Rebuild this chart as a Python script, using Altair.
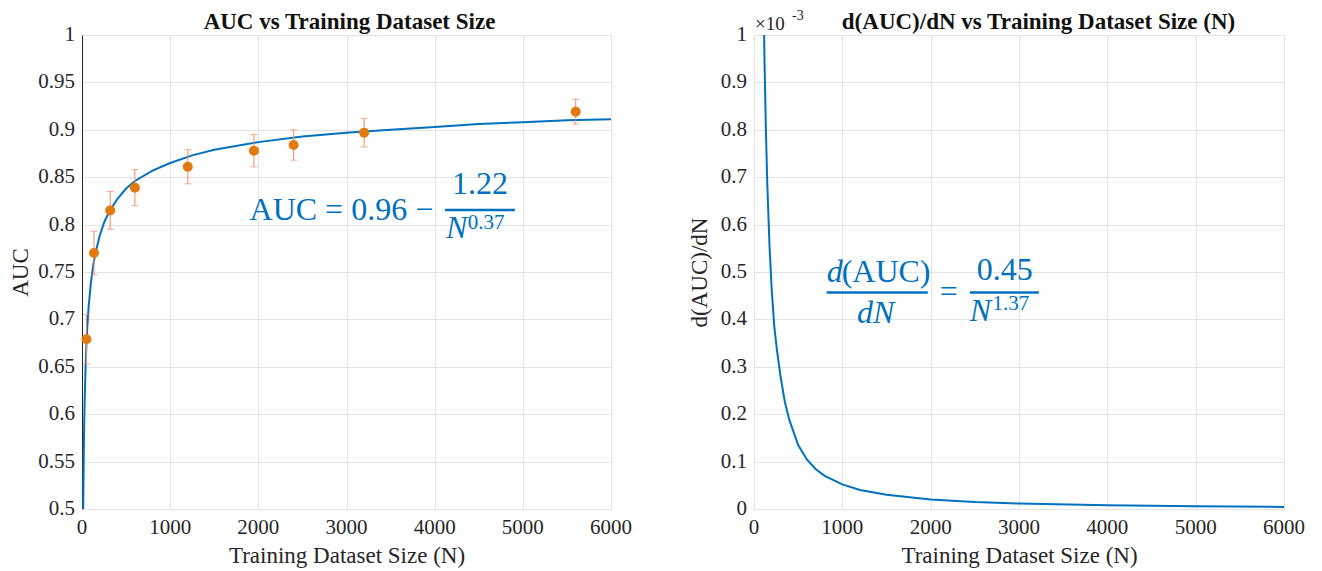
import altair as alt
import pandas as pd

# ---------------- data ----------------
# Left panel: measured AUC with error bars
n_points = [50, 136, 320, 600, 1200, 1950, 2400, 3200, 5600]
auc_points = [0.679, 0.770, 0.815, 0.839, 0.861, 0.878, 0.884, 0.897, 0.919]
auc_err = [0.026, 0.023, 0.020, 0.019, 0.018, 0.017, 0.016, 0.015, 0.013]

# Left panel: fitted curve
n_fit = [14, 16, 20, 25, 30, 40, 50, 60, 75, 100, 125, 150, 200, 250, 300, 400, 500,
         600, 800, 1000, 1250, 1500, 2000, 2500, 3000, 3500, 4000, 4500, 5000, 5500, 6000]
auc_fit = [0.500, 0.523, 0.557, 0.589, 0.613, 0.649, 0.673, 0.692, 0.713, 0.738, 0.756,
           0.769, 0.788, 0.802, 0.812, 0.827, 0.838, 0.846, 0.857, 0.865, 0.873, 0.879,
           0.887, 0.893, 0.897, 0.900, 0.903, 0.906, 0.908, 0.910, 0.911]

# Right panel: derivative curve (units of 1e-3)
n_der = [100, 110, 120, 135, 150, 175, 200, 230, 260, 300, 350, 400, 500, 600, 700, 800,
         1000, 1200, 1500, 2000, 2500, 3000, 4000, 5000, 6000]
der_vals = [1.20, 1.054, 0.935, 0.796, 0.689, 0.558, 0.464, 0.384, 0.335, 0.280, 0.225,
            0.188, 0.135, 0.104, 0.084, 0.070, 0.052, 0.040, 0.030, 0.020, 0.0146, 0.0114,
            0.0077, 0.0057, 0.0044]

x_ticks = [0, 1000, 2000, 3000, 4000, 5000, 6000]
auc_ticks = [0.5, 0.55, 0.6, 0.65, 0.7, 0.75, 0.8, 0.85, 0.9, 0.95, 1.0]
der_ticks = [0, 0.1, 0.2, 0.3, 0.4, 0.5, 0.6, 0.7, 0.8, 0.9, 1.0]

title_left = "AUC vs Training Dataset Size"
title_right = "d(AUC)/dN vs Training Dataset Size (N)"
x_title = "Training Dataset Size (N)"

# ---------------- style ----------------
BLUE = "#0072BD"
EQ = "#0070C0"
DOT = "#E27A10"
ERR = "#EF8C62"
SERIF = "Liberation Serif"
TXT = "#262626"
LABEL_SIZE = 21
EQ_SIZE = 32

pts = pd.DataFrame({"N": n_points, "AUC": auc_points, "err": auc_err})
pts["lo"] = pts["AUC"] - pts["err"]
pts["hi"] = pts["AUC"] + pts["err"]
fit = pd.DataFrame({"N": n_fit, "AUC": auc_fit})
der = pd.DataFrame({"N": n_der, "D": der_vals})

common_axis = dict(labels=False, titleFont=SERIF, titleFontSize=23, titleFontWeight="normal",
                   titleColor=TXT, gridColor="#e3e3e3", gridWidth=1, ticks=False)

x_scale = alt.Scale(domain=[0, 6000], nice=False, zero=False)
x_axis = alt.Axis(values=x_ticks, title=x_title, domain=False, titlePadding=35, **common_axis)
yl_scale = alt.Scale(domain=[0.5, 1.0], nice=False, zero=False)
yl_axis = alt.Axis(values=auc_ticks, title="AUC", domain=True, domainColor="#262626",
                   domainWidth=1, titlePadding=50, **common_axis)
yr_scale = alt.Scale(domain=[0, 1.0], nice=False)
yr_axis = alt.Axis(values=der_ticks, title="d(AUC)/dN", domain=False, titlePadding=43,
                   **common_axis)

W, H = 529, 474


def txt(text, x, y, size, yfield, yscale, yaxis, align="left", italic=False):
    df = pd.DataFrame({"N": [x], yfield: [y], "t": [text]})
    return alt.Chart(df).mark_text(
        align=align, baseline="middle", fontSize=size, font=SERIF,
        fontStyle="italic" if italic else "normal", color=EQ
    ).encode(
        x=alt.X("N:Q", scale=x_scale, axis=x_axis),
        y=alt.Y(f"{yfield}:Q", scale=yscale, axis=yaxis),
        text="t:N",
    )


def bar(x1, x2, y, yfield, yscale, yaxis):
    df = pd.DataFrame({"N": [x1], "N2": [x2], yfield: [y]})
    return alt.Chart(df).mark_rule(color=EQ, strokeWidth=2.5).encode(
        x=alt.X("N:Q", scale=x_scale, axis=x_axis),
        x2="N2:Q",
        y=alt.Y(f"{yfield}:Q", scale=yscale, axis=yaxis),
    )


def y_labels(ticks, yfield, yscale, yaxis):
    df = pd.DataFrame({yfield: ticks, "t": [f"{v:g}" for v in ticks]})
    return alt.Chart(df).mark_text(
        align="right", baseline="middle", font=SERIF, fontSize=LABEL_SIZE, color=TXT,
        fontStyle="normal"
    ).encode(
        x=alt.value(-7),
        y=alt.Y(f"{yfield}:Q", scale=yscale, axis=yaxis),
        text="t:N",
    )


def x_labels():
    df = pd.DataFrame({"N": x_ticks, "t": [str(v) for v in x_ticks]})
    return alt.Chart(df).mark_text(
        align="center", baseline="top", font=SERIF, fontSize=LABEL_SIZE, color=TXT,
        fontStyle="normal"
    ).encode(
        x=alt.X("N:Q", scale=x_scale, axis=x_axis),
        y=alt.value(H + 8),
        text="t:N",
    )


def title_mark(text, xpos):
    return alt.Chart(pd.DataFrame({"t": [text]})).mark_text(
        align="center", baseline="alphabetic", font=SERIF, fontSize=23,
        fontWeight="bold", color="#111111"
    ).encode(x=alt.value(xpos), y=alt.value(-6), text="t:N")


# ---------------- left panel ----------------
L = dict(yfield="AUC", yscale=yl_scale, yaxis=yl_axis)

curve_l = alt.Chart(fit).mark_line(color=BLUE, strokeWidth=2, clip=True).encode(
    x=alt.X("N:Q", scale=x_scale, axis=x_axis),
    y=alt.Y("AUC:Q", scale=yl_scale, axis=yl_axis),
)
errbars = alt.Chart(pts).mark_rule(color=ERR, strokeWidth=1).encode(
    x=alt.X("N:Q", scale=x_scale, axis=x_axis),
    y=alt.Y("lo:Q", scale=yl_scale, axis=yl_axis),
    y2="hi:Q",
)
cap_lo = alt.Chart(pts).mark_tick(color=ERR, orient="horizontal", size=7, thickness=1).encode(
    x=alt.X("N:Q", scale=x_scale, axis=x_axis),
    y=alt.Y("lo:Q", scale=yl_scale, axis=yl_axis),
)
cap_hi = alt.Chart(pts).mark_tick(color=ERR, orient="horizontal", size=7, thickness=1).encode(
    x=alt.X("N:Q", scale=x_scale, axis=x_axis),
    y=alt.Y("hi:Q", scale=yl_scale, axis=yl_axis),
)
dots = alt.Chart(pts).mark_circle(color=DOT, size=100, opacity=1).encode(
    x=alt.X("N:Q", scale=x_scale, axis=x_axis),
    y=alt.Y("AUC:Q", scale=yl_scale, axis=yl_axis),
)

eq_l = [
    txt("AUC = 0.96 \u2212", 1900, 0.815, EQ_SIZE, **L),
    txt("1.22", 4513, 0.8425, EQ_SIZE, align="center", **L),
    bar(4117, 4910, 0.8155, **L),
    txt("N", 4128, 0.796, EQ_SIZE, italic=True, **L),
    txt("0.37", 4375, 0.8014, 21, **L),
]

left = alt.layer(
    curve_l, errbars, cap_lo, cap_hi, dots, *eq_l,
    y_labels(auc_ticks, **L), x_labels(), title_mark(title_left, W / 2 + 3),
).properties(width=W, height=H)

# ---------------- right panel ----------------
R = dict(yfield="D", yscale=yr_scale, yaxis=yr_axis)

curve_r = alt.Chart(der).mark_line(color=BLUE, strokeWidth=2, clip=True).encode(
    x=alt.X("N:Q", scale=x_scale, axis=x_axis),
    y=alt.Y("D:Q", scale=yr_scale, axis=yr_axis),
)

exp_main = alt.Chart(pd.DataFrame({"t": ["\u00d710"]})).mark_text(
    align="left", baseline="alphabetic", font=SERIF, fontSize=19, color=TXT
).encode(x=alt.value(1), y=alt.value(-5), text="t:N")
exp_sup = alt.Chart(pd.DataFrame({"t": ["-3"]})).mark_text(
    align="left", baseline="alphabetic", font=SERIF, fontSize=14, color=TXT
).encode(x=alt.value(38), y=alt.value(-15), text="t:N")

eq_r = [
    txt("d", 823, 0.499, EQ_SIZE, italic=True, **R),
    txt("(AUC)", 992, 0.499, EQ_SIZE, **R),
    bar(823, 1967, 0.457, **R),
    txt("=", 2205, 0.457, EQ_SIZE, align="center", **R),
    txt("dN", 1377, 0.413, EQ_SIZE, align="center", italic=True, **R),
    txt("0.45", 2839, 0.505, EQ_SIZE, align="center", **R),
    bar(2443, 3225, 0.457, **R),
    txt("N", 2443, 0.417, EQ_SIZE, italic=True, **R),
    txt("1.37", 2700, 0.433, 21, **R),
]

right = alt.layer(
    curve_r, exp_main, exp_sup, *eq_r,
    y_labels(der_ticks, **R), x_labels(), title_mark(title_right, W / 2 + 20),
).properties(width=W + 1, height=H)

chart = alt.hconcat(left, right, spacing=54).properties(
    padding=0, background="white"
).configure(
    font=SERIF
).configure_view(
    stroke="#c4c4c4", strokeWidth=1
)

chart.save("out.html", embed_options={"renderer": "svg", "actions": False})
